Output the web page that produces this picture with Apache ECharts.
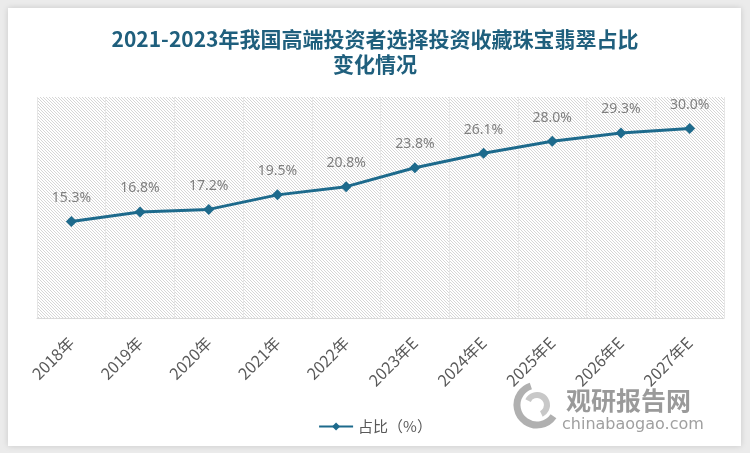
<!DOCTYPE html>
<html><head><meta charset="utf-8">
<script src="https://cdn.jsdelivr.net/npm/echarts@6/dist/echarts.min.js"></script>
<style>html,body{margin:0;padding:0;background:#ebebeb;}#c{width:750px;height:453px;}</style>
</head><body><div id="c"></div>
<script>
const categories = ['2018年','2019年','2020年','2021年','2022年','2023年E','2024年E','2025年E','2026年E','2027年E'];
const shareValues = [15.3, 16.8, 17.2, 19.5, 20.8, 23.8, 26.1, 28.0, 29.3, 30.0];
const seriesName = '占比（%）';
const titleText = '2021-2023年我国高端投资者选择投资收藏珠宝翡翠占比\n变化情况';

// hatch pattern
const pc = document.createElement('canvas');
pc.width = 6; pc.height = 6;
const g = pc.getContext('2d');
g.fillStyle = '#ffffff'; g.fillRect(0,0,6,6);
g.strokeStyle = '#d6d6d6'; g.lineWidth = 1;
g.beginPath();
for (let k = -6; k <= 12; k += 3) { g.moveTo(k, 0); g.lineTo(k + 6, 6); }
g.stroke();

const chart = echarts.init(document.getElementById('c'));
chart.setOption({
  backgroundColor: '#ebebeb',
  title: {
    text: titleText, left: 'center', top: 22,
    textStyle: { color: '#1f5f7d', fontSize: 21, fontWeight: 'bold', fontFamily: 'Noto Sans CJK SC', lineHeight: 25 }
  },
  graphic: [
    { type: 'rect', shape: { x: 8, y: 8, width: 733, height: 438 }, style: { fill: '#ffffff', shadowBlur: 6, shadowColor: 'rgba(0,0,0,0.15)' }, z: -10 },
    { type: 'arc', shape: { cx: 537, cy: 405, r: 20, startAngle: 0.6, endAngle: 4.4 }, style: { stroke: '#b0b0b0', lineWidth: 7, fill: null }, z: 5 },
    { type: 'arc', shape: { cx: 537, cy: 405, r: 10, startAngle: 3.6, endAngle: 7.4 }, style: { stroke: '#c8c8c8', lineWidth: 6, fill: null }, z: 5 },
    { type: 'text', left: 566, top: 388, style: { text: '观研报告网', fill: '#9a9a9a', font: 'bold 25px "Noto Sans CJK SC"' }, z: 5 },
    { type: 'text', left: 562, top: 417, style: { text: 'chinabaogao.com', fill: '#a0a0a0', font: '16px "DejaVu Sans"' }, z: 5 }
  ],
  legend: {
    data: [seriesName], left: 'center', top: 414, itemWidth: 34, itemHeight: 10, itemGap: 4,
    textStyle: { color: '#595959', fontSize: 15, fontFamily: 'Noto Sans CJK SC' }
  },
  grid: { left: 37, right: 26, top: 97, bottom: 135, show: true, backgroundColor: { image: pc, repeat: 'repeat' }, borderWidth: 0 },
  xAxis: {
    type: 'category', data: categories, boundaryGap: true,
    axisLine: { lineStyle: { color: '#d9d9d9', width: 1 } },
    axisTick: { show: false },
    splitLine: { show: true, lineStyle: { color: '#e6e6e6', width: 1 } },
    axisLabel: { rotate: 45, margin: 22, color: '#595959', fontSize: 16, fontFamily: 'Noto Sans CJK SC', interval: 0 }
  },
  yAxis: { type: 'value', min: 0, max: 35, show: false, splitLine: { show: false } },
  series: [{
    name: seriesName, type: 'line', data: shareValues,
    symbol: 'diamond', symbolSize: 11,
    itemStyle: { color: '#1d6a8c' },
    lineStyle: { color: '#1d6a8c', width: 3 },
    label: { show: true, position: 'top', distance: 11, color: '#7f7f7f', fontSize: 14, fontFamily: 'Noto Sans', formatter: p => p.value.toFixed(1) + '%' }
  }]
});
</script></body></html>
